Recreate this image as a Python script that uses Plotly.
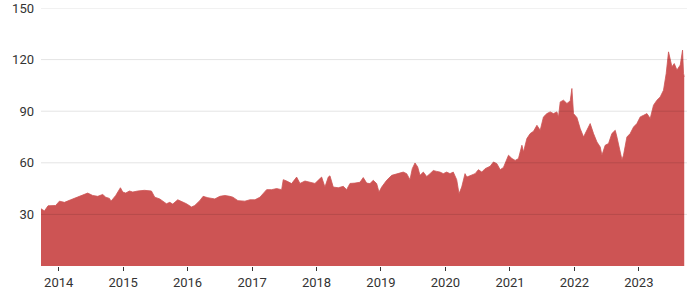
import datetime as dt
import plotly.graph_objects as go

# decimal-year positions of observations and their values
years = [
    2013.725, 2013.778, 2013.834, 2013.953, 2014.011, 2014.089, 2014.186, 2014.295, 2014.399, 2014.450,
    2014.528, 2014.606, 2014.683, 2014.730, 2014.787, 2014.812, 2014.885, 2014.958, 2014.994, 2015.040,
    2015.098, 2015.149, 2015.227, 2015.331, 2015.439, 2015.491, 2015.568, 2015.615, 2015.672, 2015.724,
    2015.770, 2015.848, 2015.905, 2015.983, 2016.061, 2016.112, 2016.189, 2016.241, 2016.314, 2016.422,
    2016.500, 2016.578, 2016.655, 2016.702, 2016.780, 2016.888, 2016.966, 2017.043, 2017.121, 2017.199,
    2017.225, 2017.303, 2017.380, 2017.458, 2017.483, 2017.536, 2017.613, 2017.691, 2017.742, 2017.820,
    2017.898, 2017.975, 2018.053, 2018.079, 2018.130, 2018.182, 2018.208, 2018.259, 2018.337, 2018.415,
    2018.467, 2018.519, 2018.596, 2018.674, 2018.725, 2018.778, 2018.829, 2018.880, 2018.933, 2018.969,
    2019.011, 2019.088, 2019.166, 2019.269, 2019.346, 2019.399, 2019.450, 2019.486, 2019.528, 2019.570,
    2019.606, 2019.657, 2019.710, 2019.761, 2019.812, 2019.865, 2019.916, 2019.967, 2020.020, 2020.071,
    2020.122, 2020.175, 2020.211, 2020.253, 2020.304, 2020.331, 2020.408, 2020.460, 2020.511, 2020.564,
    2020.615, 2020.693, 2020.744, 2020.797, 2020.848, 2020.899, 2020.977, 2021.030, 2021.081, 2021.132,
    2021.185, 2021.210, 2021.262, 2021.314, 2021.365, 2021.418, 2021.469, 2021.520, 2021.573, 2021.624,
    2021.675, 2021.728, 2021.753, 2021.780, 2021.831, 2021.884, 2021.935, 2021.961, 2021.986, 2022.039,
    2022.090, 2022.142, 2022.168, 2022.219, 2022.245, 2022.297, 2022.350, 2022.401, 2022.427, 2022.478,
    2022.530, 2022.582, 2022.634, 2022.660, 2022.700, 2022.738, 2022.762, 2022.815, 2022.866, 2022.918,
    2022.970, 2023.022, 2023.073, 2023.126, 2023.177, 2023.228, 2023.281, 2023.332, 2023.383, 2023.425,
    2023.461, 2023.488, 2023.514, 2023.550, 2023.592, 2023.643, 2023.679, 2023.694, 2023.705,
]
values = [
    33.3, 32.0, 35.0, 35.2, 37.7, 37.0, 38.5, 40.0, 41.6, 42.4,
    41.0, 40.5, 41.6, 40.0, 39.3, 37.7, 41.0, 45.5, 43.0, 42.4,
    43.6, 43.0, 43.6, 44.0, 43.6, 40.0, 39.0, 37.7, 36.2, 37.0,
    36.0, 38.5, 37.7, 36.2, 34.3, 35.2, 38.0, 40.5, 39.7, 39.0,
    40.5, 41.0, 40.5, 40.0, 38.0, 37.7, 38.5, 38.5, 40.0, 43.0,
    44.4, 44.4, 45.0, 44.4, 50.2, 49.4, 47.9, 51.7, 48.0, 49.4,
    48.8, 48.0, 50.8, 51.7, 45.9, 51.7, 52.4, 45.9, 45.5, 46.3,
    44.4, 48.0, 48.2, 48.7, 51.4, 48.2, 47.9, 49.8, 47.9, 43.0,
    45.9, 49.8, 52.7, 53.7, 54.6, 53.7, 50.2, 56.6, 59.9, 57.6,
    52.7, 54.6, 52.0, 53.7, 55.5, 55.0, 54.6, 53.7, 54.6, 53.7,
    54.6, 50.2, 42.0, 45.9, 53.7, 51.7, 52.7, 53.7, 56.0, 54.6,
    56.6, 58.0, 60.5, 59.5, 56.0, 57.3, 64.4, 62.5, 61.4, 62.5,
    70.2, 66.3, 74.1, 77.0, 78.3, 81.8, 78.9, 86.7, 88.6, 89.6,
    88.6, 89.6, 86.7, 95.4, 96.4, 94.5, 96.0, 103.2, 88.6, 86.3,
    79.9, 75.0, 77.0, 80.8, 82.8, 77.0, 72.1, 69.2, 64.4, 70.2,
    71.2, 77.0, 78.9, 75.0, 68.3, 61.8, 64.4, 75.0, 77.0, 80.8,
    82.8, 86.7, 87.6, 88.6, 85.8, 93.5, 96.4, 98.3, 102.2, 111.9,
    124.5, 119.7, 115.8, 117.7, 113.9, 116.8, 125.5, 112.0, 110.0,
]
y_ticks = [30, 60, 90, 120, 150]
x_tick_years = [2014, 2015, 2016, 2017, 2018, 2019, 2020, 2021, 2022, 2023]


def to_date(t):
    y = int(t)
    start = dt.datetime(y, 1, 1)
    days = (dt.datetime(y + 1, 1, 1) - start).days
    return start + dt.timedelta(days=(t - y) * days)


dates = [to_date(t) for t in years]

fig = go.Figure()
fig.add_trace(go.Scatter(
    x=dates, y=values, mode="lines", fill="tozeroy",
    line=dict(color="rgb(205,84,84)", width=0.8, shape="linear"),
    fillcolor="rgb(205,84,84)", hoverinfo="skip", showlegend=False,
))

for v in y_ticks:
    fig.add_shape(type="line", xref="paper", x0=0, x1=1, yref="y", y0=v, y1=v,
                  line=dict(color="rgba(0,0,0,0.11)", width=1), layer="above")

fig.update_layout(
    width=700, height=300,
    margin=dict(l=41, r=13, t=8, b=34),
    paper_bgcolor="white", plot_bgcolor="white",
    font=dict(family="Roboto, Inter, sans-serif", size=13, color="#333333"),
    xaxis=dict(
        type="date", automargin=False,
        range=[dates[0], dt.datetime(2023, 10, 1)],
        tickvals=[dt.datetime(y, 1, 1) for y in x_tick_years],
        ticktext=[str(y) for y in x_tick_years],
        ticks="outside", ticklen=4, tickcolor="#333333", tickwidth=1,
        showgrid=False, showline=False, zeroline=False,
    ),
    yaxis=dict(
        range=[0, 150], tickvals=y_ticks, automargin=False,
        showgrid=False, zeroline=False, showline=False,
        ticks="", ticklabelstandoff=6,
    ),
)

fig.write_html("out.html")
